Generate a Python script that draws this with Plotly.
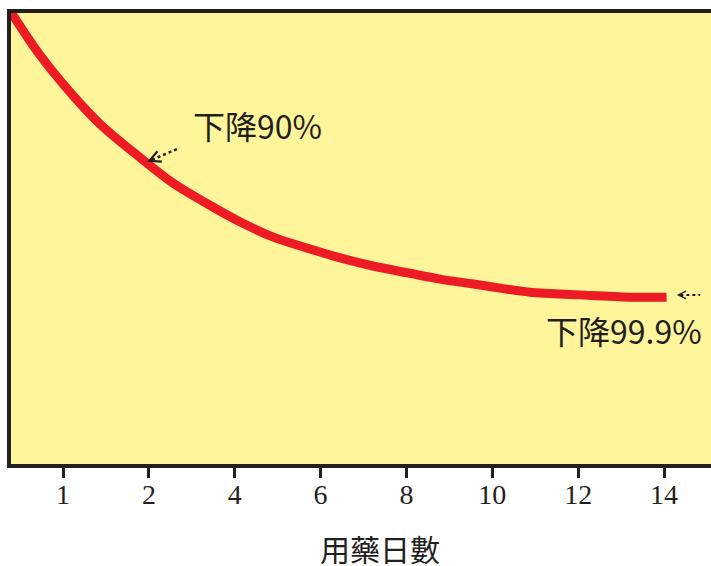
import plotly.graph_objects as go

# ---- data ----
tick_pos = [0, 1, 2, 3, 4, 5, 6, 7]
tick_labels = ["1", "2", "4", "6", "8", "10", "12", "14"]

# curve: position along the (equally spaced) day axis, and relative level (0-100)
curve_x = [-0.62, -0.27, 0.08, 0.43, 0.90, 1.28, 1.68, 2.06, 2.45, 2.84, 3.23, 3.61,
           4.01, 4.39, 4.78, 5.09, 5.44, 6.02, 6.60, 7.03]
curve_y = [100.6, 90.7, 82.5, 75.4, 67.9, 62.3, 57.7, 53.7, 50.3, 47.9, 45.7, 43.9,
           42.4, 41.0, 39.9, 39.0, 38.1, 37.5, 37.0, 37.0]

label1 = "下降90%"
label1_pos = (2.27, 75.2)
arrow1_tip = (0.98, 67.0)
arrow1_tail = (1.36, 70.1)

label2 = "下降99.9%"
label2_pos = (6.53, 29.7)
arrow2_tip = (7.15, 37.5)
arrow2_tail = (7.42, 37.5)

x_title = "用藥日數"

ink = "#231F20"
fig = go.Figure()

fig.add_trace(go.Scatter(
    x=curve_x, y=curve_y, mode="lines",
    line=dict(color="#ED1C24", width=9, shape="spline", smoothing=1.0),
    hoverinfo="skip", showlegend=False,
))

# dotted arrow tails
for tip, tail, w in [(arrow1_tip, arrow1_tail, 2.5), (arrow2_tip, arrow2_tail, 2)]:
    fig.add_trace(go.Scatter(
        x=[tip[0] + (tail[0] - tip[0]) * 0.15, tail[0]],
        y=[tip[1] + (tail[1] - tip[1]) * 0.15, tail[1]],
        mode="lines", line=dict(color=ink, width=w, dash="3px,3px"),
        hoverinfo="skip", showlegend=False,
    ))

annotations = [
    dict(x=label1_pos[0], y=label1_pos[1], xref="x", yref="y", text=label1,
         showarrow=False, font=dict(family="Noto Sans CJK TC", size=32, color=ink)),
    dict(x=label2_pos[0], y=label2_pos[1], xref="x", yref="y", text=label2,
         showarrow=False, font=dict(family="Noto Sans CJK TC", size=32, color=ink)),
    # arrowheads
    dict(x=arrow1_tip[0], y=arrow1_tip[1], xref="x", yref="y",
         ax=arrow1_tip[0] + (arrow1_tail[0] - arrow1_tip[0]) * 0.2,
         ay=arrow1_tip[1] + (arrow1_tail[1] - arrow1_tip[1]) * 0.2,
         axref="x", ayref="y", text="", showarrow=True,
         arrowhead=5, arrowsize=1.1, arrowwidth=2, arrowcolor=ink),
    dict(x=arrow2_tip[0], y=arrow2_tip[1], xref="x", yref="y",
         ax=arrow2_tip[0] + (arrow2_tail[0] - arrow2_tip[0]) * 0.2,
         ay=arrow2_tip[1],
         axref="x", ayref="y", text="", showarrow=True,
         arrowhead=5, arrowsize=0.9, arrowwidth=1.6, arrowcolor=ink),
    dict(x=0.527, y=-0.186, xref="paper", yref="paper", text=x_title,
         showarrow=False, yanchor="middle",
         font=dict(family="Noto Sans CJK TC", size=30, color=ink)),
]

fig.update_layout(
    width=711, height=566,
    margin=dict(l=11, r=0, t=13, b=102),
    paper_bgcolor="white",
    plot_bgcolor="#FFF59B",
    annotations=annotations,
    xaxis=dict(
        range=[-0.606, 7.547], tickmode="array", tickvals=tick_pos, ticktext=tick_labels,
        showgrid=False, zeroline=False, showline=True, linecolor=ink, linewidth=4,
        mirror=True, ticks="outside", ticklen=10, tickwidth=3, tickcolor=ink,
        ticklabelstandoff=-8,
        tickfont=dict(family="Liberation Serif", size=28, color=ink),
    ),
    yaxis=dict(
        range=[0, 100], showticklabels=False, showgrid=False, zeroline=False,
        showline=True, linecolor=ink, linewidth=4, ticks="",
    ),
)

fig.write_html(
    "out.html",
    config={"displayModeBar": False},
    post_script="document.body.style.margin='0';document.body.style.overflow='hidden';",
)
